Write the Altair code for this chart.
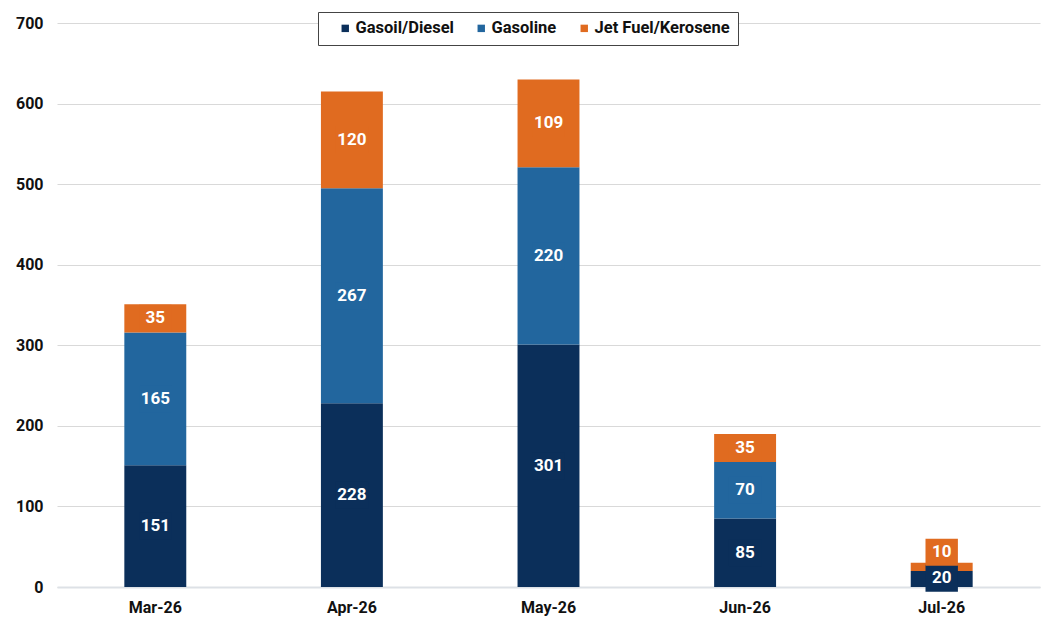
import altair as alt
import pandas as pd

months = ["Mar-26", "Apr-26", "May-26", "Jun-26", "Jul-26"]
series = ["Gasoil/Diesel", "Gasoline", "Jet Fuel/Kerosene"]
colors = ["#0b2f5a", "#22669e", "#e06b20"]

diesel = [151, 228, 301, 85, 20]
gasoline = [165, 267, 220, 70, 0]
jet = [35, 120, 109, 35, 10]

# label positions (value units) where the label was moved by the original chart
label_override = {("Jul-26", "Gasoil/Diesel"): 11, ("Jul-26", "Jet Fuel/Kerosene"): 43}

rows = []
for i, m in enumerate(months):
    base = 0
    for k, (s, vals) in enumerate(zip(series, [diesel, gasoline, jet])):
        v = vals[i]
        mid = base + v / 2
        mid = label_override.get((m, s), mid)
        rows.append({"month": m, "series": s, "value": v, "order": k,
                     "start": base, "end": base + v, "mid": mid,
                     "label": str(v) if v > 0 else ""})
        base += v
df = pd.DataFrame(rows)

xenc = alt.X("month:N", sort=months, title=None,
             scale=alt.Scale(paddingInner=0.685, paddingOuter=0.3425),
             axis=alt.Axis(labelAngle=0, labelFont="Roboto", labelFontWeight="bold",
                           labelFontSize=16, labelColor="#111", labelPadding=12,
                           domainColor="#dde1e6", domainWidth=2, ticks=False))
color = alt.Color("series:N", sort=series,
                  scale=alt.Scale(domain=series, range=colors),
                  legend=alt.Legend(orient="none", legendX=261, legendY=-11,
                                    direction="horizontal", symbolType="square",
                                    symbolSize=55, labelFont="Roboto", labelFontSize=16.5,
                                    labelFontWeight="bold", labelColor="#111",
                                    title=" ", titleOrient="left", titlePadding=11,
                                    titleFontSize=8,
                                    strokeColor="#444", padding=8, columnPadding=19,
                                    labelOffset=2, fillColor="white"))

bars = alt.Chart(df).mark_bar().encode(
    x=xenc,
    y=alt.Y("start:Q", title=None, scale=alt.Scale(domain=[0, 700]),
            axis=alt.Axis(values=list(range(0, 701, 100)), grid=True, gridColor="#d9d9d9",
                          domain=False, ticks=False, labelFont="Roboto", labelFontWeight="bold",
                          labelFontSize=16, labelColor="#111", labelPadding=14)),
    y2="end:Q",
    color=color,
)

lab = df[df["label"] != ""]
boxes = alt.Chart(lab).mark_point(shape="M-1.2,-1H1.2V1H-1.2Z", filled=True, opacity=1,
                                  size=729).encode(
    x=alt.X("month:N", sort=months),
    y="mid:Q",
    color=alt.Color("series:N", sort=series, scale=alt.Scale(domain=series, range=colors),
                    legend=None),
)

texts = alt.Chart(lab).mark_text(font="Roboto", fontWeight="bold", fontSize=17,
                                 color="white", baseline="middle").encode(
    x=alt.X("month:N", sort=months),
    y="mid:Q",
    text="label:N",
)

chart = alt.layer(bars, boxes, texts).properties(
    width=983, height=564, autosize=alt.AutoSizeParams(type="none"),
    padding={"left": 49, "top": 15, "right": 10, "bottom": 40},
).configure_view(stroke=None)

chart.save("out.html", embed_options={"renderer": "svg", "actions": False})
